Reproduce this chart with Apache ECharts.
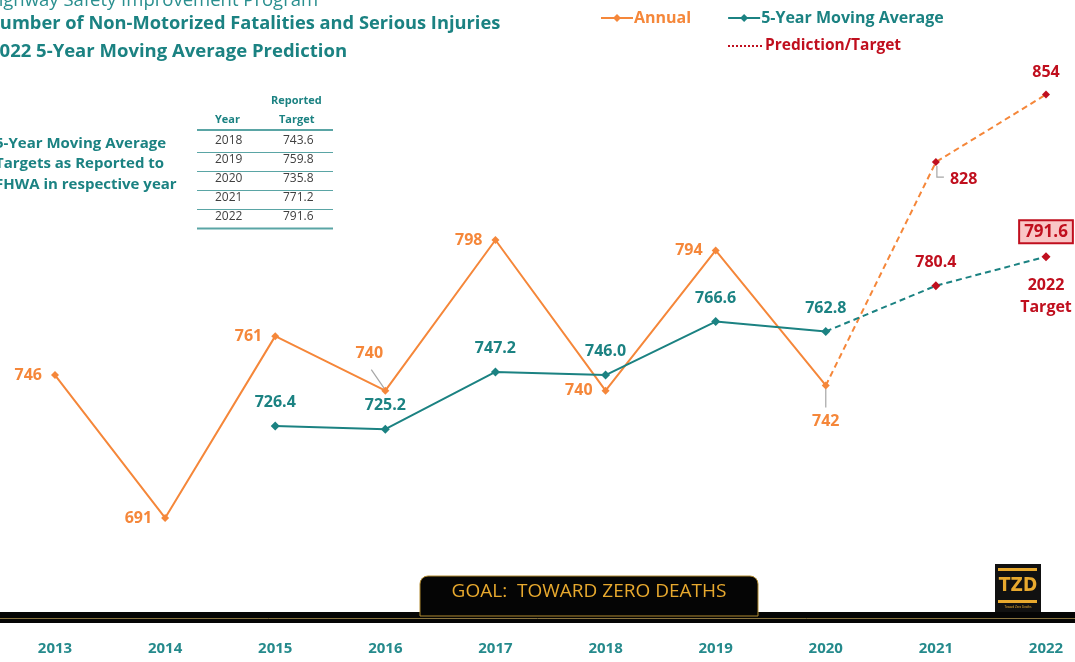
<!DOCTYPE html>
<html>
<head>
<meta charset="utf-8">
<script src="https://cdn.jsdelivr.net/npm/echarts@6/dist/echarts.min.js"></script>
<style>
html,body{margin:0;padding:0;background:#fff;}
#c{width:1075px;height:662px;}
</style>
</head>
<body>
<div id="c"></div>
<script>
var years = ['2013','2014','2015','2016','2017','2018','2019','2020','2021','2022'];
var annual = [746, 691, 761, 740, 798, 740, 794, 742, null, null];
var annualPrediction = [null, null, null, null, null, null, null, 742, 828, 854];
var movingAvg = [null, null, 726.4, 725.2, 747.2, 746.0, 766.6, 762.8, null, null];
var movingAvgPrediction = [null, null, null, null, null, null, null, 762.8, 780.4, 791.6];
var tableYears = ['2018', '2019', '2020', '2021', '2022'];
var tableTargets = ['743.6', '759.8', '735.8', '771.2', '791.6'];

var ORANGE = '#f5873a';
var TEAL = '#1b8282';
var RED = '#c00f1e';
var FONT = '"Open Sans", "Noto Sans", sans-serif';
var LBL = 16;

var chart = echarts.init(document.getElementById('c'));

var annualData = annual.map(function (v, i) {
  if (v == null) return null;
  var item = { value: v, label: { show: true, position: 'left', distance: 9 } };
  if (i === 3) item.label = { show: true, position: 'top', distance: 5, offset: [-16, -20] };
  if (i === 7) item.label = { show: true, position: 'bottom', distance: 24 };
  return item;
});
var annualPredData = annualPrediction.map(function (v, i) {
  if (v == null) return null;
  if (i === 7) return { value: v, symbol: 'none', label: { show: false } };
  var item = { value: v, label: { show: true, position: 'top', distance: 10 } };
  if (i === 8) item.label = { show: true, position: 'right', distance: 8, offset: [2, 17] };
  return item;
});
var maData = movingAvg.map(function (v) {
  if (v == null) return null;
  return { value: v };
});
var maPredData = movingAvgPrediction.map(function (v, i) {
  if (v == null) return null;
  if (i === 7) return { value: v, symbol: 'none', label: { show: false } };
  var item = { value: v };
  if (i === 9) item.label = {
    show: true, position: 'top', distance: 10, fontSize: 17,
    backgroundColor: '#f9c6c6', borderColor: RED, borderWidth: 2, padding: [3, 4, 1, 4]
  };
  return item;
});
var targetNote = movingAvgPrediction.map(function (v, i) {
  return i === movingAvgPrediction.length - 1 ? v : null;
});

var tableGraphics = [];
var tx0 = 197, tx1 = 333, ty = 3;
tableGraphics.push({ type: 'text', left: 271, top: 95, style: { text: 'Reported', font: 'bold 11px ' + FONT, fill: TEAL } });
tableGraphics.push({ type: 'text', left: 215, top: 114, style: { text: 'Year', font: 'bold 11px ' + FONT, fill: TEAL } });
tableGraphics.push({ type: 'text', left: 279, top: 114, style: { text: 'Target', font: 'bold 11px ' + FONT, fill: TEAL } });
tableGraphics.push({ type: 'line', shape: { x1: tx0, y1: 130, x2: tx1, y2: 130 }, style: { stroke: '#5aa5a5', lineWidth: 2 } });
tableYears.forEach(function (y, i) {
  var top = 132 + ty + i * 19;
  tableGraphics.push({ type: 'text', left: 215, top: top, style: { text: y, font: '12px ' + FONT, fill: '#404040' } });
  tableGraphics.push({ type: 'text', left: 283, top: top, style: { text: tableTargets[i], font: '12px ' + FONT, fill: '#404040' } });
  tableGraphics.push({ type: 'line', shape: { x1: tx0, y1: top + 17.5, x2: tx1, y2: top + 17.5 }, style: { stroke: '#5aa5a5', lineWidth: i === 4 ? 2 : 1 } });
});

var option = {
  backgroundColor: '#ffffff',
  animation: false,
  textStyle: { fontFamily: FONT },
  grid: { left: 55, right: 29, top: 40, bottom: 63.5 },
  legend: [{
    left: 595, top: 5, itemGap: 36, itemWidth: 32, itemHeight: 10,
    data: [
      { name: 'Annual', textStyle: { color: ORANGE } },
      { name: '5-Year Moving Average', textStyle: { color: TEAL } }
    ],
    textStyle: { fontSize: 16, fontWeight: 'bold', fontFamily: FONT, padding: [0, 0, 0, -4] }
  }, {
    left: 722, top: 33, itemWidth: 36, itemHeight: 10,
    data: [{ name: 'Prediction/Target', textStyle: { color: RED }, itemStyle: { opacity: 0 } }],
    textStyle: { fontSize: 15.5, fontWeight: 'bold', fontFamily: FONT, padding: [0, 0, 0, -4] }
  }],
  xAxis: {
    type: 'category', data: years, boundaryGap: false,
    axisLine: { show: false }, axisTick: { show: false }, splitLine: { show: false },
    axisLabel: { color: '#258a8c', fontWeight: 'bold', fontSize: 15, margin: 43, fontFamily: FONT }
  },
  yAxis: { type: 'value', min: 660, max: 875, show: false, splitLine: { show: false } },
  series: [
    {
      name: 'Annual', type: 'line', data: annualData, connectNulls: false,
      symbol: 'diamond', symbolSize: 8, z: 3,
      itemStyle: { color: ORANGE }, lineStyle: { color: ORANGE, width: 2 },
      label: { color: ORANGE, fontSize: LBL, fontWeight: 'bold', fontFamily: FONT }
    },
    {
      name: '5-Year Moving Average', type: 'line', data: maData,
      symbol: 'diamond', symbolSize: 9, z: 3,
      itemStyle: { color: TEAL }, lineStyle: { color: TEAL, width: 2 },
      label: { show: true, position: 'top', distance: 11, color: TEAL, fontSize: LBL, fontWeight: 'bold', fontFamily: FONT,
        formatter: function (p) { return p.value.toFixed(1); } }
    },
    {
      name: 'Annual Prediction', type: 'line', data: annualPredData,
      symbol: 'diamond', symbolSize: 8, z: 2,
      itemStyle: { color: RED }, lineStyle: { color: ORANGE, width: 2, type: [6, 4] },
      label: { color: RED, fontSize: LBL, fontWeight: 'bold', fontFamily: FONT }
    },
    {
      name: 'MA Prediction', type: 'line', data: maPredData,
      symbol: 'diamond', symbolSize: 9, z: 2,
      itemStyle: { color: RED }, lineStyle: { color: TEAL, width: 2, type: [6, 4] },
      label: { show: true, position: 'top', distance: 11, color: RED, fontSize: LBL, fontWeight: 'bold', fontFamily: FONT,
        formatter: function (p) { return p.value.toFixed(1); } }
    },
    {
      name: 'Target note', type: 'line', data: targetNote, symbol: 'circle', symbolSize: 1, showSymbol: true, silent: true,
      itemStyle: { color: 'rgba(0,0,0,0)' }, lineStyle: { opacity: 0 },
      label: { show: true, position: 'bottom', distance: 17, formatter: '2022\nTarget', color: RED,
        fontSize: 16, fontWeight: 'bold', lineHeight: 22, fontFamily: FONT }
    },
    {
      name: 'Prediction/Target', type: 'line', data: [], symbol: 'none',
      itemStyle: { color: RED }, lineStyle: { color: RED, width: 1, type: [2, 2] }
    }
  ],
  graphic: [
    { type: 'text', left: -15, top: -9, style: { text: 'Highway Safety Improvement Program', font: '18.5px ' + FONT, fill: '#2a8f8f' } },
    { type: 'text', left: -15, top: 15, style: { text: 'Number of Non-Motorized Fatalities and Serious Injuries', font: 'bold 18.3px ' + FONT, fill: TEAL } },
    { type: 'text', left: -11, top: 42, style: { text: '2022 5-Year Moving Average Prediction', font: 'bold 18.5px ' + FONT, fill: TEAL } },
    { type: 'text', left: -5, top: 136, style: { text: '5-Year Moving Average', font: 'bold 15px ' + FONT, fill: TEAL } },
    { type: 'text', left: -5, top: 156, style: { text: 'Targets as Reported to', font: 'bold 15px ' + FONT, fill: TEAL } },
    { type: 'text', left: -5, top: 177, style: { text: 'FHWA in respective year', font: 'bold 15px ' + FONT, fill: TEAL } },
    { type: 'rect', shape: { x: 0, y: 612, width: 1075, height: 11 }, style: { fill: '#050505' }, z: 10 },
    { type: 'line', shape: { x1: 0, y1: 618.5, x2: 1075, y2: 618.5 }, style: { stroke: '#8a7440', lineWidth: 1 }, z: 11 },
    { type: 'rect', shape: { x: 420, y: 576, width: 338, height: 40, r: [8, 8, 0, 0] }, style: { fill: '#050505', stroke: '#b08a30', lineWidth: 1 }, z: 12 },
    { type: 'text', x: 589, y: 592, style: { text: 'GOAL:  TOWARD ZERO DEATHS', font: '19px ' + FONT, fill: '#e8a92e', textAlign: 'center', textVerticalAlign: 'middle' }, z: 13 },
    { type: 'rect', shape: { x: 995, y: 564, width: 46, height: 48 }, style: { fill: '#111' }, z: 12 },
    { type: 'rect', shape: { x: 998, y: 568, width: 39, height: 3 }, style: { fill: '#e8a92e' }, z: 13 },
    { type: 'text', x: 1018, y: 586, style: { text: 'TZD', font: 'bold 19px "DejaVu Sans Condensed", sans-serif', fill: '#e8a92e', textAlign: 'center', textVerticalAlign: 'middle' }, z: 13 },
    { type: 'rect', shape: { x: 998, y: 600, width: 39, height: 3 }, style: { fill: '#e8a92e' }, z: 13 },
    { type: 'text', x: 1018, y: 607, style: { text: 'Toward Zero Deaths', font: '3px sans-serif', fill: '#e8a92e', textAlign: 'center', textVerticalAlign: 'middle' }, z: 13 }
  ].concat(tableGraphics)
};

chart.setOption(option);

// leader lines computed from the chart's own scales
var p2016 = chart.convertToPixel({ seriesIndex: 0 }, [3, annual[3]]);
var p2020 = chart.convertToPixel({ seriesIndex: 0 }, [7, annual[7]]);
var p2021 = chart.convertToPixel({ seriesIndex: 2 }, [8, annualPrediction[8]]);
chart.setOption({
  graphic: option.graphic.concat([
    { type: 'line', shape: { x1: p2016[0] - 14, y1: p2016[1] - 21, x2: p2016[0] - 1, y2: p2016[1] - 2 }, style: { stroke: '#a6a6a6', lineWidth: 1.2 }, z: 1 },
    { type: 'line', shape: { x1: p2020[0], y1: p2020[1] + 3, x2: p2020[0], y2: p2020[1] + 22 }, style: { stroke: '#a6a6a6', lineWidth: 1.2 }, z: 1 },
    { type: 'polyline', shape: { points: [[p2021[0] + 1, p2021[1] + 4], [p2021[0] + 1, p2021[1] + 15], [p2021[0] + 8, p2021[1] + 15]] }, style: { stroke: '#a6a6a6', lineWidth: 1.2, fill: null }, z: 1 }
  ])
});
</script>
</body>
</html>
